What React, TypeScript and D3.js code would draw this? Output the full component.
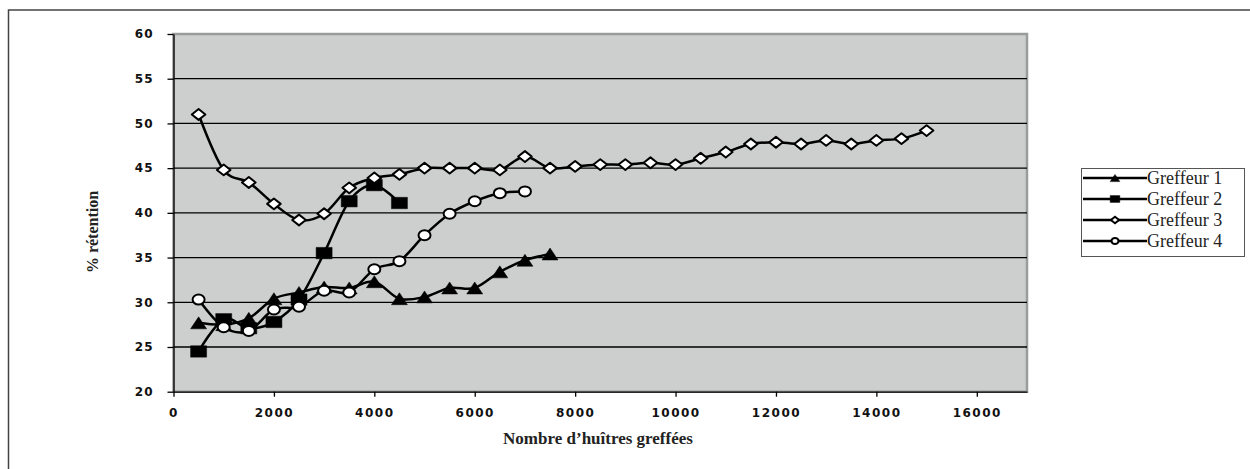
import { useEffect, useRef } from 'react';
import * as d3 from 'd3';

// values (x = nombre d'huîtres greffées, y = % rétention)
const xTicks = [0, 2000, 4000, 6000, 8000, 10000, 12000, 14000, 16000];
const yTicks = [20, 25, 30, 35, 40, 45, 50, 55, 60];

const seriesNames = ['Greffeur 1', 'Greffeur 2', 'Greffeur 3', 'Greffeur 4'];

const g1X = [500, 1000, 1500, 2000, 2500, 3000, 3500, 4000, 4500, 5000, 5500, 6000, 6500, 7000, 7500];
const g1Y = [27.7, 27.5, 28.2, 30.4, 31.1, 31.7, 31.6, 32.3, 30.4, 30.6, 31.6, 31.6, 33.4, 34.7, 35.4];

const g2X = [500, 1000, 1500, 2000, 2500, 3000, 3500, 4000, 4500];
const g2Y = [24.5, 28.1, 27.1, 27.8, 30.3, 35.5, 41.3, 43.1, 41.1];

const g3X = [
  500, 1000, 1500, 2000, 2500, 3000, 3500, 4000, 4500, 5000, 5500, 6000, 6500, 7000, 7500, 8000, 8500, 9000, 9500,
  10000, 10500, 11000, 11500, 12000, 12500, 13000, 13500, 14000, 14500, 15000,
];
const g3Y = [
  51.0, 44.8, 43.4, 41.0, 39.2, 39.9, 42.8, 43.9, 44.3, 45.0, 45.0, 45.0, 44.8, 46.3, 45.0, 45.2, 45.4, 45.4, 45.6,
  45.4, 46.1, 46.8, 47.7, 47.9, 47.7, 48.1, 47.7, 48.1, 48.3, 49.2,
];

const g4X = [500, 1000, 1500, 2000, 2500, 3000, 3500, 4000, 4500, 5000, 5500, 6000, 6500, 7000];
const g4Y = [30.3, 27.2, 26.8, 29.2, 29.5, 31.3, 31.1, 33.7, 34.6, 37.5, 39.9, 41.3, 42.2, 42.4];

type Pt = { x: number; y: number };
const zip = (xs: number[], ys: number[]): Pt[] => xs.map((x, i) => ({ x, y: ys[i] }));

const App = (): JSX.Element => {
  const svgRef = useRef<SVGSVGElement>(null);
  const width = 1250;
  const height = 469;

  useEffect(() => {
    if (svgRef.current) {
      svgRef.current.innerHTML = '';
    }
    const svg = d3.select(svgRef.current).attr('width', width).attr('height', height);

    const left = 173.5;
    const right = 1027;
    const top = 34;
    const bottom = 391.7;

    const x = d3.scaleLinear([0, 17000], [left, right]);
    const y = d3.scaleLinear([20, 60], [bottom, top]);

    // outer chart frame
    svg
      .append('path')
      .attr('d', `M8.5,${height} V10 H${width}`)
      .attr('fill', 'none')
      .attr('stroke', '#444')
      .attr('stroke-width', 1.5);

    // plot area
    svg
      .append('rect')
      .attr('x', left)
      .attr('y', top)
      .attr('width', right - left)
      .attr('height', bottom - top)
      .attr('fill', '#cdcfce')
      .attr('stroke', '#9a9c9b')
      .attr('stroke-width', 2.5);

    // horizontal grid lines
    svg
      .append('g')
      .selectAll('line')
      .data(yTicks.slice(1, -1))
      .enter()
      .append('line')
      .attr('x1', left)
      .attr('x2', right)
      .attr('y1', (d) => y(d))
      .attr('y2', (d) => y(d))
      .attr('stroke', '#000')
      .attr('stroke-width', 1.3);

    const tickFont = '"DejaVu Sans", sans-serif';

    // y axis
    const yAxis = svg
      .append('g')
      .attr('transform', `translate(${left},0)`)
      .call(d3.axisLeft(y).tickValues(yTicks).tickSize(6).tickSizeOuter(0).tickPadding(14));
    yAxis.select('.domain').attr('stroke', '#000').attr('stroke-width', 1.3);
    yAxis.selectAll('.tick line').attr('stroke', '#000').attr('stroke-width', 1.3);
    yAxis
      .selectAll('.tick text')
      .attr('font-family', tickFont)
      .attr('font-size', 12)
      .attr('font-weight', 'bold')
      .attr('letter-spacing', 1)
      .attr('fill', '#111');

    // x axis
    const xAxis = svg
      .append('g')
      .attr('transform', `translate(0,${bottom})`)
      .call(d3.axisBottom(x).tickValues(xTicks).tickSize(5).tickSizeOuter(0).tickPadding(12).tickFormat(d3.format('d')));
    xAxis.select('.domain').attr('stroke', '#000').attr('stroke-width', 1.3);
    xAxis.selectAll('.tick line').attr('stroke', '#000').attr('stroke-width', 1.3);
    xAxis
      .selectAll('.tick text')
      .attr('font-family', tickFont)
      .attr('font-size', 12)
      .attr('font-weight', 'bold')
      .attr('letter-spacing', 1.5)
      .attr('fill', '#111');

    // axis titles
    svg
      .append('text')
      .attr('x', 598)
      .attr('y', 444)
      .attr('text-anchor', 'middle')
      .attr('font-family', '"Liberation Serif", serif')
      .attr('font-weight', 'bold')
      .attr('font-size', 17)
      .attr('fill', '#222')
      .text('Nombre d\u2019huîtres greffées');

    svg
      .append('text')
      .attr('transform', 'translate(98,232) rotate(-90)')
      .attr('text-anchor', 'middle')
      .attr('font-family', '"Liberation Serif", serif')
      .attr('font-weight', 'bold')
      .attr('font-size', 16)
      .attr('fill', '#222')
      .text('% rétention');

    // marker shapes (the source chart is stretched horizontally)
    const marker = (kind: number, s: number) => {
      const w = 8 * s;
      const h = 6 * s;
      if (kind === 0) return `M0,${-h} L${w},${h} L${-w},${h} Z`;
      if (kind === 1) return `M${-w},${-h * 0.95} H${w} V${h * 0.95} H${-w} Z`;
      if (kind === 2) return `M0,${-h * 0.9} L${w * 0.85},0 L0,${h * 0.9} L${-w * 0.85},0 Z`;
      return '';
    };

    const series = [zip(g1X, g1Y), zip(g2X, g2Y), zip(g3X, g3Y), zip(g4X, g4Y)];

    const line = d3
      .line<Pt>()
      .x((d) => x(d.x))
      .y((d) => y(d.y))
      .curve(d3.curveCardinal.tension(0));

    series.forEach((data, k) => {
      const g = svg.append('g');
      g.append('path')
        .attr('d', line(data))
        .attr('fill', 'none')
        .attr('stroke', '#000')
        .attr('stroke-width', 2.5);

      const pts = g
        .selectAll('.pt')
        .data(data)
        .enter()
        .append('g')
        .attr('transform', (d) => `translate(${x(d.x)},${y(d.y)})`);

      if (k === 3) {
        pts
          .append('ellipse')
          .attr('rx', 6)
          .attr('ry', 5)
          .attr('fill', '#fff')
          .attr('stroke', '#000')
          .attr('stroke-width', 2);
      } else {
        pts
          .append('path')
          .attr('d', marker(k, 1))
          .attr('fill', k === 2 ? '#fff' : '#000')
          .attr('stroke', '#000')
          .attr('stroke-width', k === 2 ? 2 : 0.5)
          .attr('stroke-linejoin', 'round');
      }
    });

    // legend
    const legend = svg.append('g');
    legend
      .append('rect')
      .attr('x', 1081.5)
      .attr('y', 168.5)
      .attr('width', 163)
      .attr('height', 88)
      .attr('fill', '#fff')
      .attr('stroke', '#555')
      .attr('stroke-width', 1);

    seriesNames.forEach((name, k) => {
      const cy = 178 + k * 21;
      const row = legend.append('g').attr('transform', `translate(0,${cy})`);
      row
        .append('line')
        .attr('x1', 1083)
        .attr('x2', 1147)
        .attr('y1', 0)
        .attr('y2', 0)
        .attr('stroke', '#000')
        .attr('stroke-width', 2.5);
      const m = row.append('g').attr('transform', 'translate(1115,0)');
      if (k === 3) {
        m.append('ellipse')
          .attr('rx', 3.5)
          .attr('ry', 3)
          .attr('fill', '#fff')
          .attr('stroke', '#000')
          .attr('stroke-width', 2);
      } else {
        m.append('path')
          .attr('d', marker(k, 0.6))
          .attr('fill', k === 2 ? '#fff' : '#000')
          .attr('stroke', '#000')
          .attr('stroke-width', k === 2 ? 2 : 0.5);
      }
      row
        .append('text')
        .attr('x', 1147)
        .attr('y', 6)
        .attr('font-family', '"Liberation Serif", serif')
        .attr('font-size', 18)
        .attr('fill', '#222')
        .text(name);
    });
  }, []);

  return (
    <div>
      <style>{'body{margin:0}'}</style>
      <svg ref={svgRef} style={{ display: 'block' }} />
    </div>
  );
};

export default App;
